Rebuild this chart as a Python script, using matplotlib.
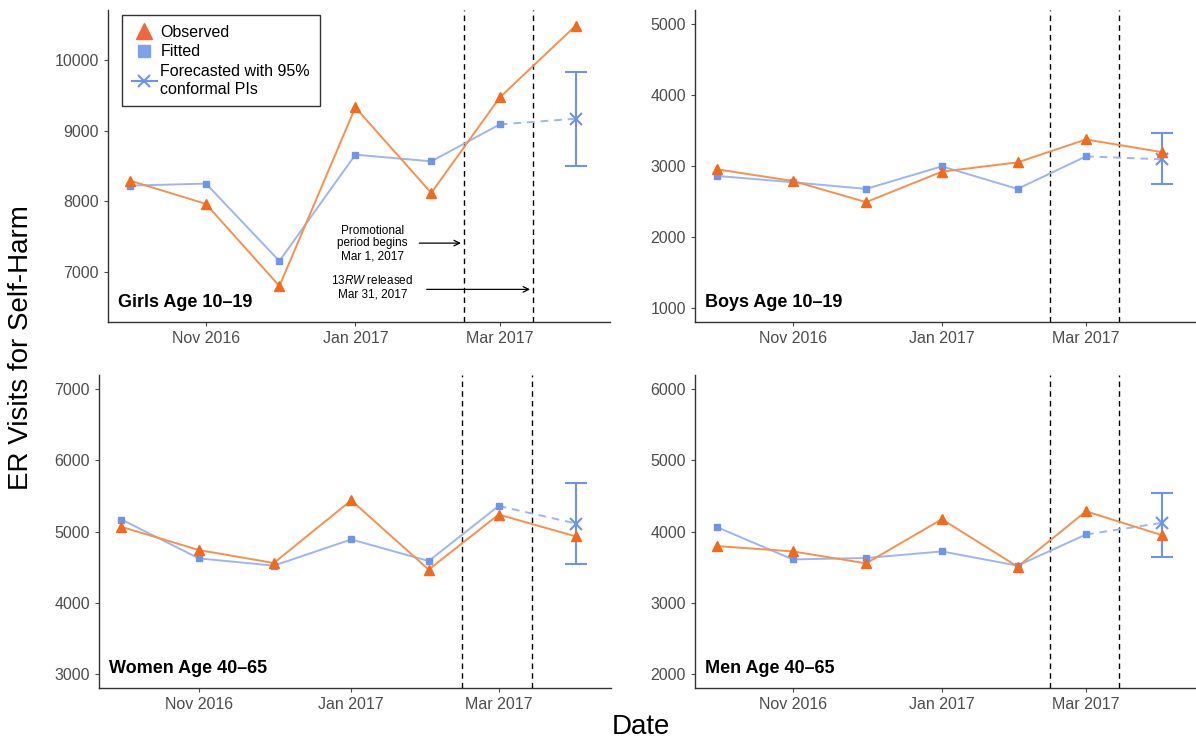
import datetime as dt
import numpy as np
import matplotlib
matplotlib.use("Agg")
import matplotlib.pyplot as plt
from matplotlib.lines import Line2D

plt.rcParams['font.family'] = ['Liberation Sans', 'DejaVu Sans']
plt.rcParams['mathtext.fontset'] = 'custom'
plt.rcParams['mathtext.it'] = 'Liberation Sans:italic'
plt.rcParams['mathtext.rm'] = 'Liberation Sans'

# monthly points (plotted mid-month)
months = [dt.datetime(2016, 10, 15), dt.datetime(2016, 11, 15), dt.datetime(2016, 12, 15),
          dt.datetime(2017, 1, 15), dt.datetime(2017, 2, 15), dt.datetime(2017, 3, 15),
          dt.datetime(2017, 4, 15)]
tick_dates = [dt.datetime(2016, 11, 15), dt.datetime(2017, 1, 15), dt.datetime(2017, 3, 15)]
tick_labels = ['Nov 2016', 'Jan 2017', 'Mar 2017']
vline_dates = [dt.datetime(2017, 2, 28, 6), dt.datetime(2017, 3, 28, 12)]

panel_names = ['Girls Age 10\u201319', 'Boys Age 10\u201319',
               'Women Age 40\u201365', 'Men Age 40\u201365']

# observed counts Oct 2016 - Apr 2017
observed = {
    'girls': [8293, 7964, 6803, 9328, 8119, 9469, 10484],
    'boys':  [2953, 2789, 2490, 2920, 3051, 3374, 3196],
    'women': [5065, 4739, 4557, 5438, 4464, 5238, 4930],
    'men':   [3795, 3720, 3552, 4172, 3506, 4284, 3949],
}
# fitted values Oct 2016 - Mar 2017
fitted = {
    'girls': [8223, 8251, 7156, 8660, 8566, 9088],
    'boys':  [2860, 2771, 2677, 2995, 2677, 3136],
    'women': [5168, 4622, 4520, 4888, 4585, 5359],
    'men':   [4061, 3608, 3627, 3720, 3520, 3958],
}
# April 2017 forecast with 95% conformal PI (lower, upper)
forecast = {'girls': 9168, 'boys': 3094, 'women': 5112, 'men': 4121}
pi_lower = {'girls': 8505, 'boys': 2747, 'women': 4548, 'men': 3646}
pi_upper = {'girls': 9835, 'boys': 3468, 'women': 5685, 'men': 4541}

y_limits = {'girls': (6295, 10705), 'boys': (800, 5200),
            'women': (2800, 7200), 'men': (1800, 6200)}
y_ticks = {'girls': [7000, 8000, 9000, 10000], 'boys': [1000, 2000, 3000, 4000, 5000],
           'women': [3000, 4000, 5000, 6000, 7000], 'men': [2000, 3000, 4000, 5000, 6000]}

obs_line = '#F4914F'
obs_mark = '#F26A1B'
fit_line = '#9DB5F2'
fit_mark = '#6F95E8'
fc_col = '#6E93EC'

fig = plt.figure(figsize=(11.96, 7.42), dpi=100)
W, H = 1196, 742
boxes = {'girls': (108, 10, 610, 322), 'boys': (695, 10, 1196, 322),
         'women': (99, 375, 611, 688), 'men': (695, 375, 1196, 688)}

axes = {}
for key, name in zip(['girls', 'boys', 'women', 'men'], panel_names):
    x0, y0, x1, y1 = boxes[key]
    ax = fig.add_axes([x0 / W, 1 - y1 / H, (x1 - x0) / W, (y1 - y0) / H])
    axes[key] = ax

    ax.plot(months[:6], fitted[key], color=fit_line, lw=1.4, zorder=2)
    ax.plot(months[5:7], [fitted[key][-1], forecast[key]], color=fit_line, lw=1.4,
            ls=(0, (4, 3)), zorder=2)
    ax.plot(months, observed[key], color=obs_line, lw=1.4, zorder=3)
    ax.plot(months[:6], fitted[key], ls='none', marker='s', ms=5, color=fit_mark, zorder=4)
    ax.plot(months, observed[key], ls='none', marker='^', ms=7.5, color=obs_mark, zorder=5)
    ax.errorbar([months[6]], [forecast[key]],
                yerr=[[forecast[key] - pi_lower[key]], [pi_upper[key] - forecast[key]]],
                fmt='x', color=fc_col, ms=8, mew=1.5, elinewidth=1.5, capsize=8,
                capthick=1.5, zorder=4)

    for d in vline_dates:
        ax.axvline(d, color='black', lw=1, ls=(0, (4, 3)), zorder=1)

    ax.set_xlim(dt.datetime(2016, 10, 6), dt.datetime(2017, 4, 29))
    ax.set_ylim(*y_limits[key])
    ax.set_yticks(y_ticks[key])
    ax.set_xticks(tick_dates)
    ax.set_xticklabels(tick_labels)
    ax.tick_params(labelsize=11.5, colors='#4D4D4D', length=3, width=0.8)
    for s in ['top', 'right']:
        ax.spines[s].set_visible(False)
    for s in ['left', 'bottom']:
        ax.spines[s].set_color('#333333')
        ax.spines[s].set_linewidth(1)
    ax.text(0.02, 0.035, name, transform=ax.transAxes, fontsize=13,
            fontweight='bold', ha='left', va='bottom')

# legend in the girls panel
handles = [Line2D([], [], ls='none', marker='^', ms=11, color='#F2663F'),
           Line2D([], [], ls='none', marker='s', ms=8, color='#7FA0EC'),
           Line2D([], [], color=fc_col, marker='x', ms=9, mew=1.5, lw=1.5)]
leg = axes['girls'].legend(handles, ['Observed', 'Fitted', 'Forecasted with 95%\nconformal PIs'],
                           loc='upper left', bbox_to_anchor=(0.028, 0.984), borderaxespad=0,
                           fontsize=11.5, frameon=True, fancybox=False, handlelength=1.6,
                           handletextpad=0.2, labelspacing=0.3, borderpad=0.6)
leg.get_frame().set_edgecolor('black')
leg.get_frame().set_linewidth(1)

# annotations in the girls panel
ax = axes['girls']
ax.text(dt.datetime(2017, 1, 22), 7405, 'Promotional\nperiod begins\nMar 1, 2017',
        ha='center', va='center', fontsize=8.5, linespacing=1.1)
ax.annotate('', xy=(vline_dates[0], 7410), xytext=(dt.datetime(2017, 2, 9), 7410),
            arrowprops=dict(arrowstyle='->', color='black', lw=0.9))
ax.text(dt.datetime(2017, 1, 22), 6784, '$\\mathit{13RW}$ released\nMar 31, 2017',
        ha='center', va='center', fontsize=8.5, linespacing=1.1)
ax.annotate('', xy=(vline_dates[1], 6756), xytext=(dt.datetime(2017, 2, 12), 6756),
            arrowprops=dict(arrowstyle='->', color='black', lw=0.9))

fig.text(21 / W, 1 - 348 / H, 'ER Visits for Self-Harm', rotation=90, fontsize=20,
         ha='center', va='center')
fig.text(641 / W, 1 - 727 / H, 'Date', fontsize=20, ha='center', va='center')

fig.savefig('out.png', dpi=100)
